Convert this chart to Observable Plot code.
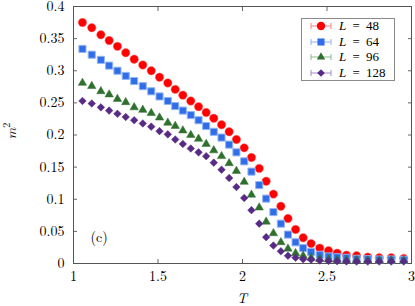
<!DOCTYPE html>
<html><head><meta charset="utf-8">
<script src="https://cdn.jsdelivr.net/npm/d3@7"></script>
<script src="https://cdn.jsdelivr.net/npm/@observablehq/plot@0.6"></script>
<style>
html,body{margin:0;padding:0;background:#fff;}
#chart{position:relative;width:415px;height:306px;font-family:'Latin Modern Roman';}
#legend{position:absolute;left:301px;top:18px;width:94px;height:63px;background:#fff;border:1px solid #8a8a8a;box-sizing:border-box;}
.row{position:absolute;left:0;height:14px;width:92px;}
.row svg{position:absolute;left:8px;top:0;}
.row .lab{position:absolute;left:37px;top:0;line-height:14px;font-size:13px;word-spacing:3px;color:#000;white-space:nowrap;font-family:'Liberation Serif';}
</style></head><body><div id="chart"><div id="legend"></div></div>
<script>
// Temperatures (x)
const T = [1.053,1.108,1.162,1.211,1.260,1.309,1.359,1.410,1.460,1.509,1.558,1.602,1.647,
           1.694,1.740,1.785,1.830,1.876,1.921,1.964,2.010,2.053,2.099,2.140,2.183,2.227,
           2.269,2.314,2.359,2.406,2.457,2.509,2.560,2.615,2.675,2.741,2.809,2.880,2.954];
const m2_L48 = [0.375,0.367,0.356,0.347,0.338,0.328,0.318,0.309,0.300,0.290,0.281,0.271,0.262,
                0.253,0.244,0.235,0.226,0.216,0.205,0.193,0.180,0.165,0.148,0.128,0.108,0.089,
                0.070,0.053,0.040,0.031,0.024,0.020,0.016,0.013,0.012,0.010,0.009,0.009,0.008];
const m2_L64 = [0.334,0.325,0.317,0.308,0.300,0.292,0.284,0.276,0.268,0.260,0.253,0.245,0.238,
                0.231,0.223,0.214,0.205,0.196,0.185,0.173,0.159,0.143,0.122,0.101,0.080,0.062,
                0.045,0.033,0.024,0.018,0.0135,0.011,0.0098,0.0089,0.0073,0.0067,0.0062,0.0062,0.0058];
const m2_L96 = [0.281,0.276,0.268,0.263,0.256,0.251,0.243,0.239,0.234,0.227,0.219,0.214,0.207,
                0.200,0.194,0.186,0.176,0.167,0.156,0.144,0.127,0.107,0.087,0.065,0.047,0.033,
                0.023,0.016,0.012,0.009,0.0067,0.006,0.0055,0.005,0.0048,0.0046,0.0045,0.0044,0.0043];
const m2_L128 = [0.253,0.249,0.243,0.238,0.233,0.228,0.223,0.218,0.213,0.206,0.201,0.193,0.186,
                 0.179,0.173,0.167,0.157,0.146,0.133,0.119,0.102,0.083,0.062,0.041,0.028,0.019,
                 0.012,0.009,0.0067,0.006,0.0047,0.004,0.0036,0.0033,0.003,0.003,0.003,0.003,0.003];
const sizes = ["48","64","96","128"];
const xTicks = [1,1.5,2,2.5,3];
const yTicks = [0,0.05,0.1,0.15,0.2,0.25,0.3,0.35,0.4];
const panelLabel = "(c)";

const diamond = {draw(ctx,size){const h=Math.sqrt(size/Math.PI);ctx.moveTo(0,-h);ctx.lineTo(h,0);ctx.lineTo(0,h);ctx.lineTo(-h,0);ctx.closePath();}};
const styles = [
  {vals:m2_L48, fill:"#ff0000", stroke:"#ff6a6a", light:"#ff7f7f", symbol:"circle", r:4.2},
  {vals:m2_L64, fill:"#2f6ee8", stroke:"#93b4f3", light:"#8fb0f2", symbol:"square", r:4.0},
  {vals:m2_L96, fill:"#30702f", stroke:"#30702f", light:"#8db58c", symbol:"triangle", r:3.1},
  {vals:m2_L128, fill:"#582a86", stroke:"#582a86", light:"#a58fc2", symbol:diamond, r:3.8}
];
const series = styles.map((s,j)=>T.map((t,i)=>({T:t, m2:s.vals[i], L:sizes[j]})));

const tickStroke = "#666";
const plot = Plot.plot({
  width:415, height:306,
  marginLeft:73, marginRight:4, marginTop:6, marginBottom:43,
  style:{fontFamily:"'Latin Modern Roman'", fontSize:"14px", color:"#000", background:"#fff"},
  x:{domain:[1,3]},
  y:{domain:[0,0.4]},
  marks:[
    Plot.axisX(xTicks,{tickSize:0, tickPadding:8, tickFormat:d=>String(d), label:null, fontSize:14}),
    Plot.axisX(xTicks,{tickSize:4, dy:-4, tickFormat:()=>"", label:null, stroke:tickStroke}),
    Plot.axisX(xTicks,{anchor:"top", tickSize:4, dy:4, tickFormat:()=>"", label:null, stroke:tickStroke}),
    Plot.axisY(yTicks,{tickSize:0, tickPadding:9, tickFormat:d=>String(d), label:null, fontSize:14}),
    Plot.axisY(yTicks,{tickSize:4, dx:4, tickFormat:()=>"", label:null, stroke:tickStroke}),
    Plot.axisY(yTicks,{anchor:"right", tickSize:4, dx:-4, tickFormat:()=>"", label:null, stroke:tickStroke}),
    Plot.frame({stroke:"#555"}),
    ...series.map((d,j)=>Plot.dot(d,{x:"T", y:"m2", r:styles[j].r, symbol:styles[j].symbol,
        fill:styles[j].fill, stroke:styles[j].stroke, strokeWidth:styles[j].symbol==="square"?1:0.5})),
    Plot.text([panelLabel],{frameAnchor:"bottom-left", dx:17, dy:-26, lineAnchor:"middle", textAnchor:"start", fontSize:14})
  ]
});
document.getElementById("chart").prepend(plot);

const svg = d3.select(plot);
svg.append("text").attr("x",242).attr("y",300).attr("text-anchor","middle").attr("dominant-baseline","middle")
  .attr("font-size",14).attr("font-style","italic").attr("font-family","'Latin Modern Roman'").text("T");
const yl = svg.append("text").attr("transform","translate(16,131) rotate(-90)").attr("text-anchor","middle")
  .attr("font-size",14).attr("font-family","'Latin Modern Roman'");
yl.append("tspan").attr("font-style","italic").text("m");
yl.append("tspan").attr("font-size",10).attr("dy",-6).text("2");

// legend
const leg = document.getElementById("legend");
const rowTops = [0,15.7,31,46.7];
styles.forEach((s,j)=>{
  const row = document.createElement("div");
  row.className="row"; row.style.top = rowTops[j]+"px";
  const ns="http://www.w3.org/2000/svg";
  const sv = document.createElementNS(ns,"svg");
  sv.setAttribute("width",22); sv.setAttribute("height",14);
  const g = d3.select(sv);
  g.append("line").attr("x1",1).attr("x2",21).attr("y1",7).attr("y2",7).attr("stroke",s.light).attr("stroke-width",1);
  g.append("line").attr("x1",1).attr("x2",1).attr("y1",4).attr("y2",10).attr("stroke",s.light);
  g.append("line").attr("x1",21).attr("x2",21).attr("y1",4).attr("y2",10).attr("stroke",s.light);
  const sym = typeof s.symbol==="string" ? {circle:d3.symbolCircle,square:d3.symbolSquare,triangle:d3.symbolTriangle}[s.symbol] : s.symbol;
  g.append("path").attr("transform","translate(11,7)").attr("d",d3.symbol(sym, Math.PI*s.r*s.r)()).attr("fill",s.fill);
  row.appendChild(sv);
  const lab = document.createElement("span");
  lab.className="lab";
  lab.innerHTML = '<i>L</i> = '+sizes[j];
  row.appendChild(lab);
  leg.appendChild(row);
});
</script></body></html>
